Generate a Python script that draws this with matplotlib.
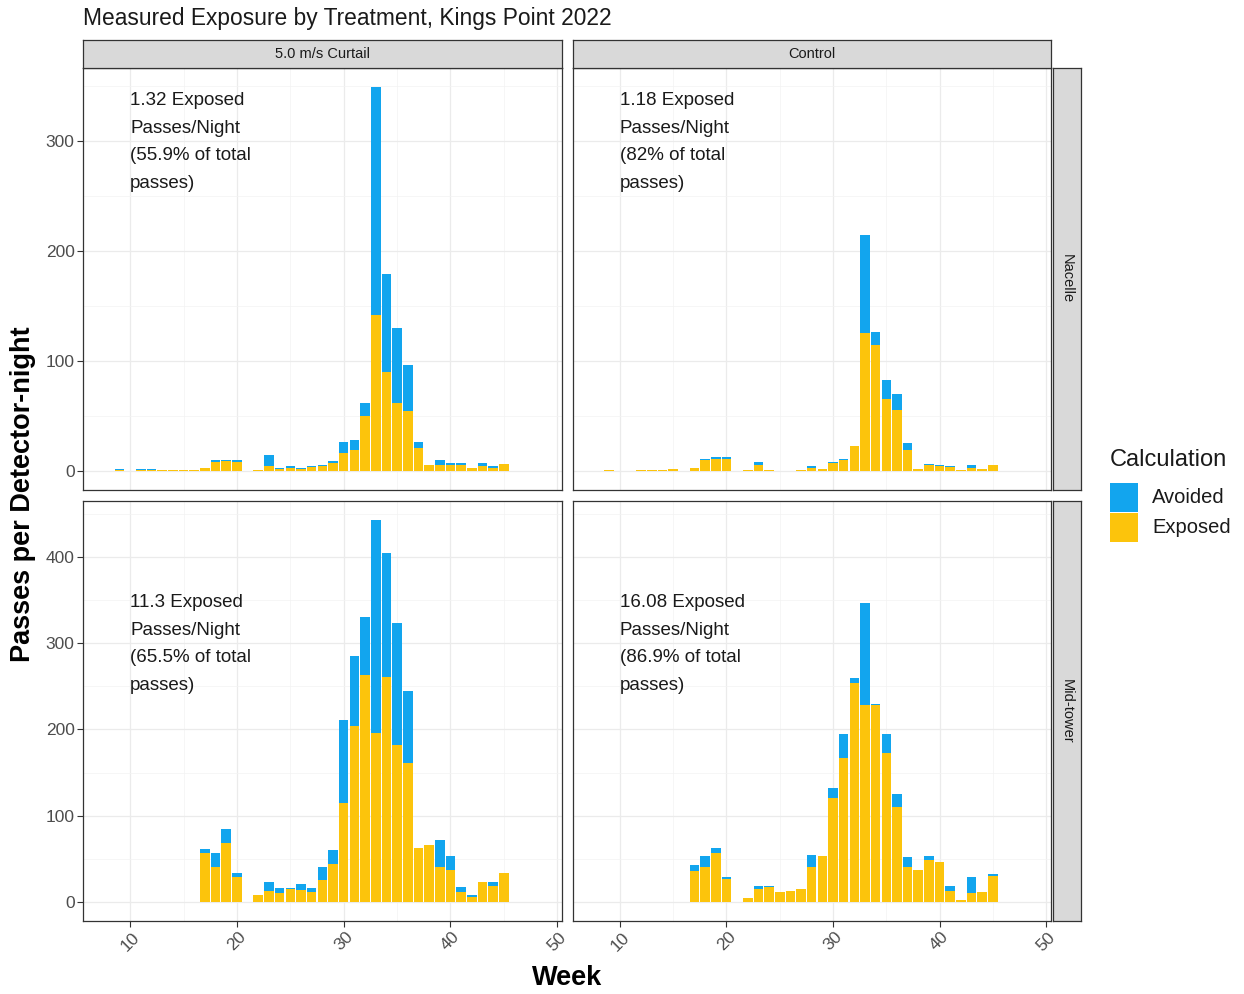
import matplotlib
matplotlib.use('Agg')
import matplotlib.pyplot as plt
from matplotlib.patches import Rectangle

plt.rcParams['font.family'] = ['Liberation Sans', 'DejaVu Sans']

# ---------------- data ----------------
weeks = list(range(9, 46))
treatments = ['5.0 m/s Curtail', 'Control']
locations = ['Nacelle', 'Mid-tower']
categories = ['Avoided', 'Exposed']

#                    9    10   11   12   13   14   15   16   17   18   19   20   21   22   23   24   25   26   27   28   29   30    31    32    33     34    35     36    37    38   39   40   41   42   43   44   45
curtail_nacelle_exposed = [1.0, 0, 1.0, 1.0, 0.3, 0.4, 0.6, 0.3, 2.3, 8, 9, 8, 0, 0.8, 4, 1.5, 3, 1.5, 3.5, 4, 7, 16, 18.5, 50, 142, 90, 61.5, 54.5, 21, 5.5, 5, 5, 5, 2.5, 4.5, 2.5, 6]
curtail_nacelle_avoided = [0.5, 0, 0.5, 0.5, 0, 0.1, 0.2, 0, 0.2, 2, 1, 1.5, 0, 0.2, 10, 1, 1.5, 1, 0.5, 1, 1.5, 10, 9.1, 12, 207, 89, 68.5, 41.5, 5, 0, 5, 2, 2.5, 0, 2.5, 1.5, 0]

control_nacelle_exposed = [0.5, 0, 0, 0.5, 0.5, 0.7, 1.8, 0, 2.2, 9.5, 11, 11, 0, 0.8, 5.5, 0.8, 0, 0, 0.5, 3, 1.3, 7, 10, 22.5, 125, 114.5, 65, 55.5, 19, 2, 5, 4, 3.5, 1, 3, 2, 5]
control_nacelle_avoided = [0.1, 0, 0, 0, 0.1, 0.1, 0.2, 0, 0.2, 1.5, 1.4, 1.4, 0, 0.2, 2.5, 0.2, 0, 0, 0, 1, 0.2, 1, 0.6, 0.5, 89.5, 11.5, 18, 14.5, 6, 0, 1.4, 1, 0.5, 0, 2, 0, 0]

curtail_midtower_exposed = [0, 0, 0, 0, 0, 0, 0, 0, 56.5, 41, 68, 28.5, 0, 8, 13, 10.4, 15, 14, 12, 25, 44, 115, 203.5, 263, 196, 261, 182, 161, 63, 66, 40, 37, 11, 5.4, 22.7, 18, 34]
curtail_midtower_avoided = [0, 0, 0, 0, 0, 0, 0, 0, 4.5, 16, 16, 5.5, 0, 0, 10.5, 5.6, 1.5, 7, 4, 16, 16, 96, 81.5, 67, 247, 144, 141.5, 84, 0, 0, 32, 15.7, 6, 3.1, 0, 4.7, 0]

control_midtower_exposed = [0, 0, 0, 0, 0, 0, 0, 0, 36, 41, 56.5, 26, 0, 4, 15, 17, 12, 13, 15, 41, 53.5, 121, 167, 253.5, 228.5, 228.5, 172.7, 110, 41, 37, 48.5, 46, 13, 2.3, 10.4, 12, 29.6]
control_midtower_avoided = [0, 0, 0, 0, 0, 0, 0, 0, 6.7, 12.5, 6.5, 2.5, 0, 0, 4, 1, 0, 0, 0, 13, 0, 10.5, 27.6, 6.5, 118.5, 1.1, 21.9, 14.6, 11, 0, 5, 0, 5, 0, 18.1, 0, 2.4]

annotations = [
    ['1.32 Exposed', 'Passes/Night', '(55.9% of total', 'passes)'],
    ['1.18 Exposed', 'Passes/Night', '(82% of total', 'passes)'],
    ['11.3 Exposed', 'Passes/Night', '(65.5% of total', 'passes)'],
    ['16.08 Exposed', 'Passes/Night', '(86.9% of total', 'passes)'],
]
x_ticks = [10, 20, 30, 40, 50]
y_ticks_top = [0, 100, 200, 300]
y_ticks_bottom = [0, 100, 200, 300, 400]

# ---------------- style ----------------
BLUE = '#12A5EE'
YELLOW = '#FCC40C'
W, H = 1244, 994
fig = plt.figure(figsize=(W / 100, H / 100), dpi=100)


def add_ax(l, t, r, b):
    return fig.add_axes([l / W, 1 - b / H, (r - l) / W, (b - t) / H])


cols = [(83, 562), (572.7, 1051)]
rows = [(68, 490), (500.7, 921)]
panel_data = [
    [(curtail_nacelle_exposed, curtail_nacelle_avoided), (control_nacelle_exposed, control_nacelle_avoided)],
    [(curtail_midtower_exposed, curtail_midtower_avoided), (control_midtower_exposed, control_midtower_avoided)],
]
ylims = [(-17.45, 366.45), (-22.15, 465.15)]
ann_y = [337, 347]
yticks_rows = [y_ticks_top, y_ticks_bottom]

for ri, (t, b) in enumerate(rows):
    for ci, (l, r) in enumerate(cols):
        ax = add_ax(l, t, r, b)
        exp, avo = panel_data[ri][ci]
        ax.set_xlim(5.58, 50.45)
        ax.set_ylim(*ylims[ri])
        ax.set_axisbelow(True)
        ax.set_xticks(x_ticks)
        ax.set_xticks([15, 25, 35, 45], minor=True)
        yt = yticks_rows[ri]
        ax.set_yticks(yt)
        ax.set_yticks([v + 50 for v in yt], minor=True)
        ax.grid(True, which='major', color='#EBEBEB', lw=0.9)
        ax.grid(True, which='minor', color='#F3F3F3', lw=0.5)
        ax.tick_params(which='minor', length=0)
        ax.tick_params(which='major', length=4, width=0.8, color='#333333',
                       labelcolor='#4D4D4D', labelsize=12.5, pad=2)
        for s in ax.spines.values():
            s.set_color('#333333')
            s.set_linewidth(0.9)
        ax.bar(weeks, exp, width=0.9, color=YELLOW, linewidth=0)
        ax.bar(weeks, avo, width=0.9, bottom=exp, color=BLUE, linewidth=0)
        if ci == 1:
            ax.tick_params(axis='y', which='both', left=False, labelleft=False)
        if ri == 0:
            ax.tick_params(axis='x', which='both', bottom=False, labelbottom=False)
        else:
            ax.set_xticklabels([str(v) for v in x_ticks], rotation=45, ha='center', va='top')
        lines = annotations[ri * 2 + ci]
        for k, line in enumerate(lines):
            ax.annotate(line, xy=(10, ann_y[ri]), xycoords='data',
                        xytext=(0, -k * 19.9), textcoords='offset points',
                        ha='left', va='center', fontsize=13.5, color='#1A1A1A')

# strips (top)
for ci, (l, r) in enumerate(cols):
    sax = add_ax(l, 40, r, 68)
    sax.set_facecolor('#D9D9D9')
    sax.set_xticks([]); sax.set_yticks([])
    for s in sax.spines.values():
        s.set_color('#333333'); s.set_linewidth(0.9)
    sax.text(0.5, 0.5, treatments[ci], ha='center', va='center', fontsize=10.5,
             color='#1A1A1A', transform=sax.transAxes)

# strips (right)
for ri, (t, b) in enumerate(rows):
    sax = add_ax(1052.7, t, 1080.7, b)
    sax.set_facecolor('#D9D9D9')
    sax.set_xticks([]); sax.set_yticks([])
    for s in sax.spines.values():
        s.set_color('#333333'); s.set_linewidth(0.9)
    sax.text(0.5, 0.5, locations[ri], ha='center', va='center', fontsize=10.5,
             rotation=-90, color='#1A1A1A', transform=sax.transAxes)

# titles
fig.text(83 / W, 1 - 18 / H, 'Measured Exposure by Treatment, Kings Point 2022',
         ha='left', va='center', fontsize=16.4, color='#1A1A1A')
fig.text(567 / W, 1 - 978 / H, 'Week', ha='center', va='center',
         fontsize=19.5, fontweight='bold')
fig.text(23 / W, 1 - 494 / H, 'Passes per Detector-night', ha='center', va='center',
         rotation=90, fontsize=19.5, fontweight='bold')

# legend
fig.text(1110 / W, 1 - 460 / H, 'Calculation', ha='left', va='center', fontsize=17,
         color='#1A1A1A')
key_cols = [BLUE, YELLOW]
key_tops = [483.3, 513.3]
for cat, col, kt in zip(categories, key_cols, key_tops):
    fig.patches.append(Rectangle((1110 / W, 1 - (kt + 28.4) / H), 28 / W, 28.4 / H,
                                 transform=fig.transFigure, facecolor=col, edgecolor='none'))
    fig.text(1152 / W, 1 - (kt + 14.2) / H, cat, ha='left', va='center', fontsize=14.5,
             color='#1A1A1A')

fig.savefig('out.png', dpi=100, facecolor='white')
